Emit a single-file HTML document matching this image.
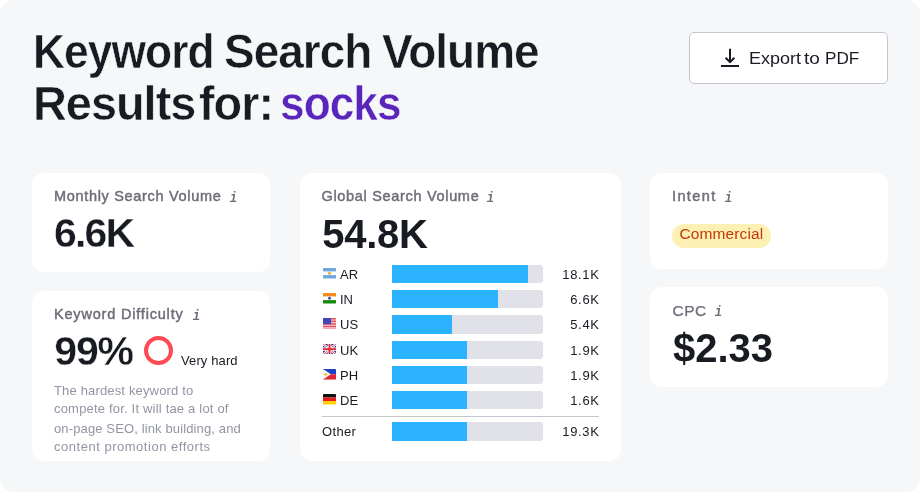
<!DOCTYPE html>
<html lang="en">
<head>
<meta charset="utf-8">
<title>Keyword Search Volume</title>
<style>
*{box-sizing:border-box;margin:0;padding:0}
html,body{width:920px;height:492px;background:#fff;overflow:hidden}
body{font-family:"Liberation Sans",sans-serif;color:#191b23;position:relative}
.panel{position:absolute;left:0;top:0;width:920px;height:492px;background:#f5f7f9;border-radius:14px}
h1{position:absolute;left:0;top:26px;width:600px;height:104px;font-size:47.5px;line-height:52px;font-weight:700;color:#191b23;white-space:nowrap;-webkit-text-stroke:0.5px #f5f7f9}
h1 span{position:absolute;transform-origin:0 50%;letter-spacing:-1px}
h1 .kw{color:#5925ba}
.btn{position:absolute;left:689px;top:32px;width:199px;height:52px;background:#fff;border:1px solid #c4c7cf;border-radius:5px;font-size:16.5px;color:#191b23}
.btn svg{position:absolute;left:30px;top:14px}
.btn span{position:absolute;top:15px;line-height:20px;white-space:nowrap;transform-origin:0 50%}
.card{position:absolute;background:#fff;border-radius:12px}
.lbl{position:absolute;left:22px;top:14px;font-size:14.5px;line-height:18px;font-weight:400;color:#6c6e79;-webkit-text-stroke:0.45px #6c6e79;white-space:nowrap;letter-spacing:0.68px}
.lbl i{font-family:"Liberation Mono",monospace;font-style:italic;font-weight:700;font-size:14.5px;margin-left:7px;color:#6c6e79;-webkit-text-stroke:0;letter-spacing:0;position:relative;top:0.5px;display:inline-block;transform:scaleX(0.85)}
.big{position:absolute;left:21px;font-size:40px;line-height:40px;font-weight:700;color:#191b23;white-space:nowrap;letter-spacing:-1.1px}
.geo{-webkit-text-stroke:0.35px #fff;font-size:41px}
#c1{left:32px;top:173px;width:238px;height:99px}
#c2{left:32px;top:291px;width:238px;height:170px}
#c3{left:299.5px;top:173px;width:321px;height:288px}
#c4{left:650px;top:173px;width:238px;height:96px}
#c5{left:650px;top:287px;width:238px;height:100px}
.ring{position:absolute;left:111.5px;top:44.8px;width:29.5px;height:29.5px;border:4.75px solid #ff4953;border-radius:50%}
.vh{position:absolute;left:149px;top:61.5px;font-size:13px;line-height:16px;color:#191b23;white-space:nowrap;letter-spacing:0.12px}
.desc{position:absolute;left:22px;font-size:13px;line-height:18px;color:#9295a3;white-space:nowrap}
.tag{position:absolute;left:22.2px;top:51.4px;height:24.1px;width:98.7px;padding:0 0 0 7.4px;border-radius:12.05px;background:#fdf0b4;color:#c33909;font-size:15.5px;line-height:19.5px;letter-spacing:0.1px;white-space:nowrap}
.row{position:absolute;left:22px;width:277px;height:18.4px;font-size:13px;line-height:18.4px;color:#191b23}
.row svg{position:absolute;left:1.5px;top:3.3px;width:13px;height:10.5px;border-radius:1px}
.row .cc{position:absolute;left:18.5px;top:1px}
.row .bar{position:absolute;left:70.2px;top:0;width:151.3px;height:18.4px;background:#e0e1e9;border-radius:0 3px 3px 0;overflow:hidden}
.row .bar b{display:block;height:18.4px;background:#2bb3ff}
.row .val{position:absolute;right:-1.2px;top:1px;text-align:right;letter-spacing:0.7px}
.sep{position:absolute;left:22px;top:243px;width:277px;height:1px;background:#c4c7cf}
</style>
</head>
<body>
<div class="panel"></div>
<h1><span style="left:32.6px;top:0;transform:scaleX(0.9327)">Keyword </span><span style="left:223.8px;top:0;transform:scaleX(0.9670)">Search </span><span style="left:381.6px;top:0;transform:scaleX(0.9665)">Volume</span><span style="left:33.2px;top:52px;transform:scaleX(0.9862)">Results </span><span style="left:198.5px;top:52px;transform:scaleX(0.9851)">for: </span><span class="kw" style="left:279.7px;top:52px;transform:scaleX(0.9305)">socks</span></h1>
<div class="btn">
<svg width="20" height="22" viewBox="0 0 20 22" fill="none" stroke="#191b23" stroke-width="2" stroke-linejoin="miter"><path d="M10 1.8V15M5.6 10.8L10 15.2l4.400-4.400M1 19h18"/></svg>
<span style="left:59px;transform:scaleX(1.09)">Export </span><span style="left:114px;transform:scaleX(1.15)">to </span><span style="left:135px;transform:scaleX(1.04)">PDF</span>
</div>

<div class="card" id="c1">
<div class="lbl">Monthly Search Volume<i style="margin-left:8px">i</i></div>
<div class="big geo" style="top:40.4px;left:22px;letter-spacing:-1.8px">6.6K</div>
</div>

<div class="card" id="c2">
<div class="lbl" style="letter-spacing:0.81px">Keyword Difficulty<i style="margin-left:8px">i</i></div>
<div class="big geo" style="top:40.4px;left:22.3px;letter-spacing:-1.2px">99%</div>
<div class="ring"></div>
<div class="vh">Very hard</div>
<div class="desc" style="top:90.6px;letter-spacing:0.16px">The hardest keyword to</div>
<div class="desc" style="top:108.9px;letter-spacing:0.19px">compete for. It will tae a lot of</div>
<div class="desc" style="top:128.8px;letter-spacing:0.13px">on-page SEO, link building, and</div>
<div class="desc" style="top:146.6px;letter-spacing:0.52px">content promotion efforts</div>
</div>

<div class="card" id="c3">
<div class="lbl">Global Search Volume<i>i</i></div>
<div class="big" style="top:40.7px;left:22.8px;letter-spacing:-0.3px">54.8K</div>
<div class="row" style="top:91.8px"><svg viewBox="0 0 13 10.5"><rect width="13" height="10.5" fill="#fff"/><rect width="13" height="3.4" fill="#6aa9de"/><rect y="7.1" width="13" height="3.4" fill="#6aa9de"/><circle cx="6.5" cy="5.25" r="1.5" fill="#f5a623"/></svg><span class="cc">AR</span><span class="bar"><b style="width:136px"></b></span><span class="val">18.1K</span></div>
<div class="row" style="top:117.0px"><svg viewBox="0 0 13 10.5"><rect width="13" height="10.5" fill="#fff"/><rect width="13" height="3.4" fill="#f58a1f"/><rect y="7.1" width="13" height="3.4" fill="#158a0e"/><circle cx="6.5" cy="5.25" r="1.4" fill="#3a4bc0"/></svg><span class="cc">IN</span><span class="bar"><b style="width:106.1px"></b></span><span class="val">6.6K</span></div>
<div class="row" style="top:142.2px"><svg viewBox="0 0 13 10.5"><rect width="13" height="10.5" fill="#e0555f"/><g fill="#f6c9cc"><rect y="1.5" width="13" height="1.1"/><rect y="4.1" width="13" height="1.1"/><rect y="6.7" width="13" height="1.1"/><rect y="9" width="13" height="0.8"/></g><rect width="8" height="6.2" fill="#4046b8"/></svg><span class="cc">US</span><span class="bar"><b style="width:60.3px"></b></span><span class="val">5.4K</span></div>
<div class="row" style="top:167.5px"><svg viewBox="0 0 13 10.5"><rect width="13" height="10.5" fill="#2b3a9e"/><path d="M0 0L13 10.500M13 0L0 10.500" stroke="#fff" stroke-width="2.400"/><path d="M0 0L13 10.500M13 0L0 10.500" stroke="#e03a4a" stroke-width="0.900"/><path d="M6.500 0V10.500M0 5.250H13" stroke="#fff" stroke-width="3.600"/><path d="M6.500 0V10.500M0 5.250H13" stroke="#e02a3a" stroke-width="2"/></svg><span class="cc">UK</span><span class="bar"><b style="width:75.5px"></b></span><span class="val">1.9K</span></div>
<div class="row" style="top:192.8px"><svg viewBox="0 0 13 10.5"><rect width="13" height="5.250" fill="#1f42c8"/><rect y="5.250" width="13" height="5.250" fill="#e32636"/><path d="M0 0L7.800 5.250L0 10.500Z" fill="#fff"/><circle cx="2.800" cy="5.250" r="1.500" fill="#f7c325"/><rect x="0.200" y="0.200" width="12.600" height="10.100" fill="none" stroke="#000" stroke-opacity="0.15" stroke-width="0.400"/></svg><span class="cc">PH</span><span class="bar"><b style="width:75.5px"></b></span><span class="val">1.9K</span></div>
<div class="row" style="top:217.9px"><svg viewBox="0 0 13 10.5"><rect width="13" height="3.500" fill="#111"/><rect y="3.500" width="13" height="3.500" fill="#e31b1b"/><rect y="7" width="13" height="3.500" fill="#ffcf0a"/></svg><span class="cc">DE</span><span class="bar"><b style="width:75.5px"></b></span><span class="val">1.6K</span></div>
<div class="sep"></div>
<div class="row" style="top:249.2px"><span class="cc" style="left:0.5px;letter-spacing:0.35px">Other</span><span class="bar"><b style="width:75.500px"></b></span><span class="val">19.3K</span></div>
</div>

<div class="card" id="c4">
<div class="lbl" style="letter-spacing:1.38px">Intent<i>i</i></div>
<div class="tag">Commercial</div>
</div>

<div class="card" id="c5">
<div class="lbl" style="top:14.6px;left:22.5px;font-size:15.5px;letter-spacing:0.45px;-webkit-text-stroke-width:0.25px">CPC<i>i</i></div>
<div class="big" style="top:40.8px;left:23px;letter-spacing:0">$2.33</div>
</div>
</body>
</html>
